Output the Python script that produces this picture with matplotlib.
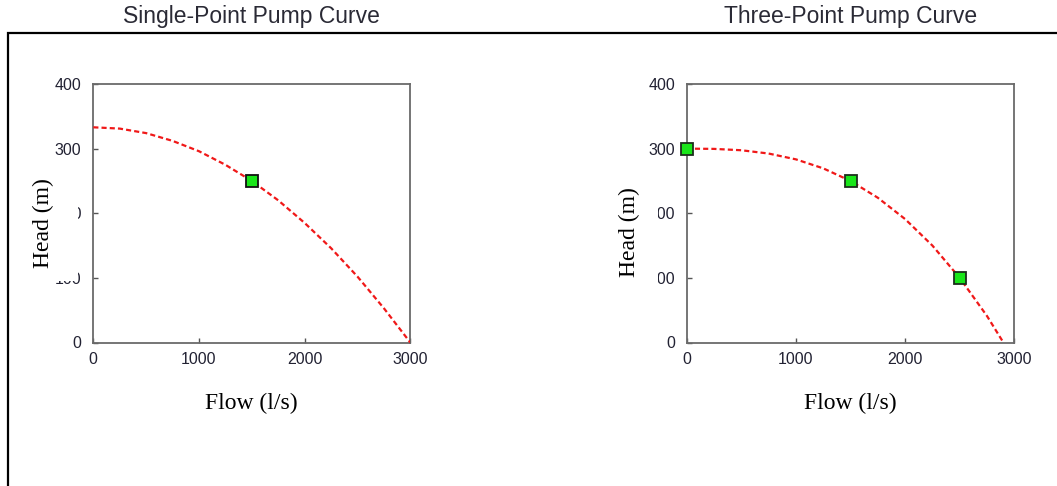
import matplotlib
matplotlib.use("Agg")
import matplotlib.pyplot as plt
from matplotlib.lines import Line2D
from matplotlib.patches import Rectangle

# ---- data ----
titles = ["Single-Point Pump Curve", "Three-Point Pump Curve"]
x_label = "Flow (l/s)"
y_label = "Head (m)"
x_ticks = [0, 1000, 2000, 3000]
y_ticks = [0, 100, 200, 300, 400]

# Single-point pump curve: design point and the fitted curve as seen
single_pt_flow = [1500]
single_pt_head = [250]
single_curve_flow = [0, 250, 500, 750, 1000, 1250, 1500, 1750, 2000, 2250, 2500, 2750, 3000]
single_curve_head = [333, 331, 324, 312, 296, 275, 250, 220, 185, 146, 102, 53, 0]

# Three-point pump curve: the three points and the fitted curve as seen
three_pt_flow = [0, 1500, 2500]
three_pt_head = [300, 250, 100]
three_curve_flow = [0, 250, 500, 750, 1000, 1250, 1500, 1750, 2000, 2250, 2500, 2750, 2900]
three_curve_head = [300, 299.6, 297.5, 292.4, 283.4, 269.5, 250, 224, 191, 150, 100, 41, 0]

W, H = 1057, 486
fig = plt.figure(figsize=(W / 100, H / 100), dpi=100)
fig.patch.set_facecolor("white")

sans = ["Liberation Sans", "DejaVu Sans"]
serif = ["Liberation Serif", "DejaVu Serif"]

def px(x0, y0_top, x1, y1_top):
    return [x0 / W, 1 - y1_top / H, (x1 - x0) / W, (y1_top - y0_top) / H]

ax1 = fig.add_axes(px(93.3, 84, 410.3, 342.5))
ax2 = fig.add_axes(px(686.7, 84, 1014.3, 342.5))

panels = [
    (ax1, single_curve_flow, single_curve_head, single_pt_flow, single_pt_head, "#111111"),
    (ax2, three_curve_flow, three_curve_head, three_pt_flow, three_pt_head, "#1c2e1c"),
]

for ax, cf, ch, pf, ph, edge in panels:
    ax.plot(cf, ch, color="#f01818", lw=1.6, dashes=(2.3, 1.4), zorder=3)
    ax.plot(pf, ph, ls="none", marker="s", ms=8, mfc="#19e619", mec=edge,
            mew=1.3, zorder=4, clip_on=False)
    ax.set_xlim(0, 3000)
    ax.set_ylim(0, 400)
    ax.set_xticks(x_ticks)
    ax.set_yticks(y_ticks)
    for sp in ax.spines.values():
        sp.set_color("#6a6a6a")
        sp.set_linewidth(1.3)
    ax.tick_params(direction="in", length=3.8, width=1.0, color="#555555",
                   labelsize=11.5, labelcolor="#222233")
    ax.tick_params(axis="y", pad=8.5)
    ax.tick_params(axis="x", pad=6.5)
    for lab in ax.get_xticklabels() + ax.get_yticklabels():
        lab.set_family(sans)

# titles
fig.text(251.5 / W, 1 - 17 / H, titles[0], ha="center", va="center",
         fontsize=16.5, color="#2a2a35", family=sans)
fig.text(851 / W, 1 - 17 / H, titles[1], ha="center", va="center",
         fontsize=16.5, color="#2a2a35", family=sans)

# outer frame (top and left edges)
fig.add_artist(Line2D([8 / W, 8 / W, 1.0], [0.0, 1 - 33.5 / H, 1 - 33.5 / H],
                      transform=fig.transFigure, color="black", lw=1.6,
                      solid_joinstyle="miter"))

# white patches behind the y labels (covering tick labels as in the reference)
fig.add_artist(Rectangle((12 / W, 1 - 281 / H), 66 / W, 123 / H,
                         transform=fig.transFigure, facecolor="white",
                         edgecolor="none", zorder=2.5))
fig.add_artist(Rectangle((612 / W, 1 - 288 / H), 46 / W, 108 / H,
                         transform=fig.transFigure, facecolor="white",
                         edgecolor="none", zorder=2.5))

# axis labels
fig.text(43 / W, 1 - 223 / H, y_label, rotation=90, ha="center", va="center",
         fontsize=17, color="black", family=serif, zorder=3)
fig.text(629 / W, 1 - 232 / H, y_label, rotation=90, ha="center", va="center",
         fontsize=17, color="black", family=serif, zorder=3)
fig.text(251.5 / W, 1 - 403 / H, x_label, ha="center", va="center",
         fontsize=17, color="black", family=serif, zorder=3)
fig.text(850.5 / W, 1 - 403 / H, x_label, ha="center", va="center",
         fontsize=17, color="black", family=serif, zorder=3)

fig.savefig("out.png", dpi=100, facecolor="white")
